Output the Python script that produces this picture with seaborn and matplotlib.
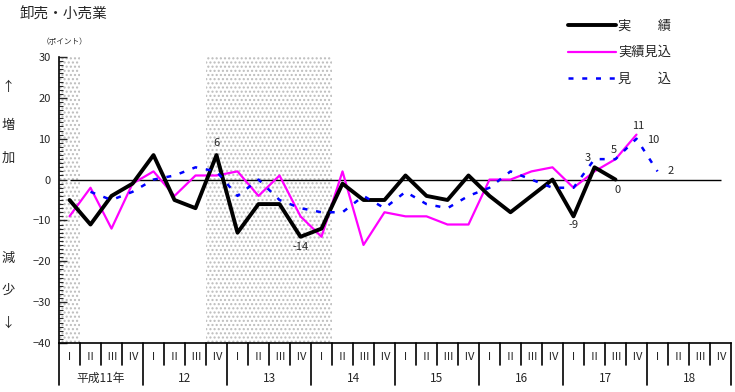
import matplotlib
matplotlib.use("Agg")
import matplotlib.pyplot as plt
import matplotlib.transforms as mtransforms
from matplotlib.ticker import MultipleLocator
import numpy as np
import pandas as pd
import seaborn as sns

# ---- data ----
years = ["平成11年", "12", "13", "14", "15", "16", "17", "18"]
quarters = ["Ⅰ", "Ⅱ", "Ⅲ", "Ⅳ"]
actual = [-5, -11, -4, -1, 6, -5, -7, 6, -13, -6, -6, -14, -12, -1, -5, -5,
          1, -4, -5, 1, -4, -8, -4, 0, -9, 3, 0]
actual_est = [-9, -2, -12, -1, 2, -4, 1, 1, 2, -4, 1, -9, -14, 2, -16, -8,
              -9, -9, -11, -11, 0, 0, 2, 3, -2, 2, 5, 11]
forecast = [None, -3, -5, -3, 0, 1, 3, 2, -4, 0, -5, -7, -8, -8, -4, -7,
            -3, -6, -7, -4, -2, 2, 0, -2, -2, 5, 5, 10, 2]
shaded_quarters = [(0, 0), (7, 12)]
labels_series = ["実　　績", "実績見込", "見　　込"]

sns.set_theme(style="white")
plt.rcParams['font.family'] = ['Noto Sans CJK JP', 'DejaVu Sans']

fig = plt.figure(figsize=(7.35, 3.92), dpi=100)
ax = fig.add_axes([59/735, 49/392, 672/735, 286/392])

n_q = len(years) * len(quarters)

def frame(vals):
    return pd.DataFrame({"q": np.arange(len(vals)), "v": pd.array(vals, dtype="Float64")}).dropna()

for a, b in shaded_quarters:
    ax.axvspan(a - 0.5, b + 0.5, facecolor="white", edgecolor="#bcbcbc",
               hatch="....", linewidth=0, zorder=0)

ax.hlines(0, 0, n_q - 1, color="black", linewidth=1.0, zorder=1)

sns.lineplot(data=frame(actual), x="q", y="v", ax=ax, color="black",
             linewidth=2.8, label=labels_series[0], zorder=4)
sns.lineplot(data=frame(actual_est), x="q", y="v", ax=ax, color="#ff00ff",
             linewidth=1.6, label=labels_series[1], zorder=3)
sns.lineplot(data=frame(forecast), x="q", y="v", ax=ax, color="#0000ff",
             linewidth=1.8, linestyle=(0, (2, 3.5)), label=labels_series[2], zorder=5)

ax.set_xlim(-0.5, n_q - 0.5)
ax.set_ylim(-40, 30)
ax.yaxis.set_major_locator(MultipleLocator(10))
ax.yaxis.set_minor_locator(MultipleLocator(1))
ax.tick_params(axis="y", which="major", direction="in", length=6, width=1,
               labelsize=8, pad=6, left=True)
ax.tick_params(axis="y", which="minor", direction="in", length=3, width=0.8, left=True)
ax.set_xticks([])
ax.set_xlabel("")
ax.set_ylabel("")
for s in ["top", "right"]:
    ax.spines[s].set_visible(False)
for s in ["left", "bottom"]:
    ax.spines[s].set_color("black")
    ax.spines[s].set_linewidth(1.2)

# annotations
fs = 8
ax.text(7, actual[7] + 1.8, "6", ha="center", va="bottom", fontsize=fs)
ax.text(11, actual[11] - 1.3, "-14", ha="center", va="top", fontsize=fs)
ax.text(24, actual[24] - 1.0, "-9", ha="center", va="top", fontsize=fs)
ax.text(24.7, actual[25] + 1.0, "3", ha="center", va="bottom", fontsize=fs)
ax.text(26.1, actual[26] - 1.3, "0", ha="center", va="top", fontsize=fs)
ax.text(25.9, actual_est[26] + 1.0, "5", ha="center", va="bottom", fontsize=fs)
ax.text(27.1, actual_est[27] + 0.8, "11", ha="center", va="bottom", fontsize=fs)
ax.text(27.5, forecast[27] - 0.3, "10", ha="left", va="center", fontsize=fs)
ax.text(28.5, forecast[28], "2", ha="left", va="center", fontsize=fs)

# category table under the axis
trans = mtransforms.blended_transform_factory(ax.transData, ax.transAxes)
h_px = 286.0
q_drop = 22 / h_px
y_drop = 42 / h_px
for i in range(n_q + 1):
    x = i - 0.5
    d = y_drop if i % 4 == 0 else q_drop
    ax.plot([x, x], [0, -d], transform=trans, color="black", linewidth=1.2,
            clip_on=False)
for i in range(n_q):
    ax.text(i, -13.5 / h_px, quarters[i % 4], transform=trans, ha="center",
            va="center", fontsize=8)
for k, yl in enumerate(years):
    ax.text(4 * k + 1.5, -35 / h_px, yl, transform=trans, ha="center",
            va="center", fontsize=8.5)

# titles and side labels
fig.text(20/735, 1 - 15/392, "卸売・小売業", ha="left", va="center", fontsize=10.5)
fig.text(42/735, 1 - 42/392, "（ポイント）", ha="left", va="center", fontsize=5.5)
for ch, ypx in [("↑", 87), ("増", 126), ("加", 158), ("減", 258), ("少", 290), ("↓", 323)]:
    fig.text(8/735, 1 - ypx/392, ch, ha="center", va="center", fontsize=9.5)

ax.get_legend().remove()
handles = ax.get_lines()
leg_handles = [h for h in handles if h.get_label() in labels_series]
fig.legend(leg_handles, [h.get_label() for h in leg_handles],
           loc="upper left", bbox_to_anchor=(563/735, 1 - 14/392),
           frameon=False, fontsize=9.5, handlelength=3.6, handletextpad=0.15,
           labelspacing=1.05, borderaxespad=0)

fig.savefig("out.png", dpi=100)
